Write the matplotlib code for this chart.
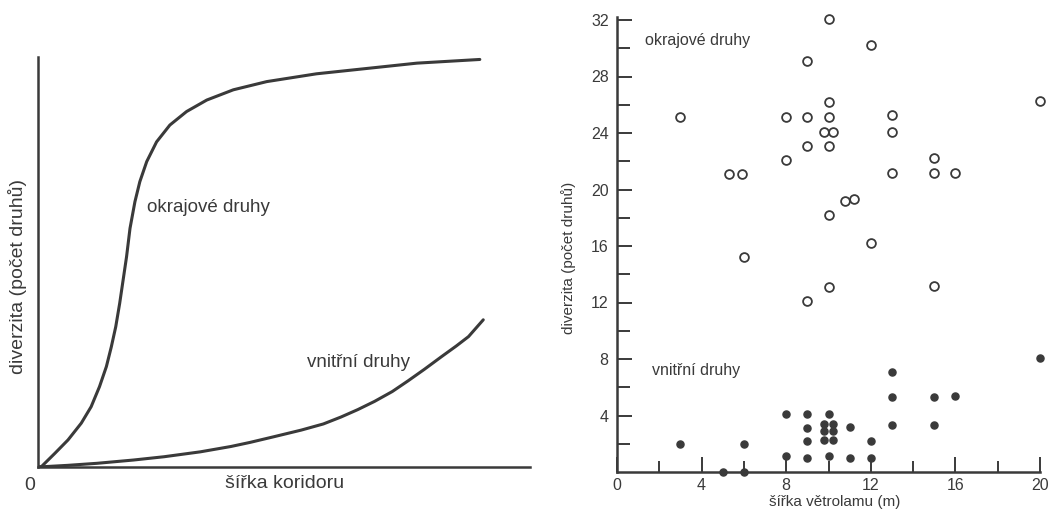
import numpy as np
import matplotlib
matplotlib.use('Agg')
import matplotlib.pyplot as plt

plt.rcParams['font.family'] = ['Liberation Sans', 'DejaVu Sans']

ink = '#3a3a3a'

# left panel: schematic curves (arbitrary units 0-10)
edge_x = [0, 0.07, 0.34, 0.61, 0.88, 1.08, 1.25, 1.39, 1.49, 1.58, 1.66, 1.73,
          1.80, 1.87, 1.97, 2.07, 2.21, 2.41, 2.68, 3.02, 3.43, 3.97, 4.65,
          5.66, 6.68, 7.70, 8.98]
edge_y = [0, 0.01, 0.33, 0.66, 1.07, 1.47, 1.96, 2.45, 2.93, 3.42, 3.99, 4.56,
          5.13, 5.82, 6.47, 6.96, 7.45, 7.93, 8.34, 8.67, 8.95, 9.20, 9.40,
          9.59, 9.72, 9.85, 9.94]
inner_x = [0, 0.6, 1.2, 1.94, 2.56, 3.3, 3.92, 4.31, 4.8, 5.35, 5.8, 6.16, 6.5,
           6.84, 7.2, 7.52, 7.85, 8.20, 8.5, 8.75, 9.05]
inner_y = [0, 0.04, 0.09, 0.17, 0.25, 0.37, 0.50, 0.60, 0.74, 0.90, 1.05, 1.22,
           1.40, 1.60, 1.84, 2.10, 2.38, 2.69, 2.95, 3.18, 3.59]

# right panel: windbreak width (m) vs. number of species
open_x = [3, 10, 12, 9, 10, 20, 8, 9, 10, 13, 9.8, 10.2, 13, 9, 10, 8, 15,
          5.3, 5.9, 13, 15, 16, 10.8, 11.2, 10, 12, 6, 9, 10, 15]
open_y = [25.1, 32.1, 30.2, 29.1, 26.2, 26.3, 25.1, 25.1, 25.1, 25.3, 24.1, 24.1,
          24.1, 23.1, 23.1, 22.1, 22.2, 21.1, 21.1, 21.2, 21.2, 21.2, 19.2, 19.3,
          18.2, 16.2, 15.2, 12.1, 13.1, 13.2]
fill_x = [3, 6, 5, 6, 8, 8, 9, 9, 9, 9, 10, 9.8, 10.2, 9.8, 10.2, 9.8, 10.2,
          10, 11, 11, 12, 12, 13, 13, 13, 15, 15, 16, 20]
fill_y = [2.0, 2.0, 0, 0, 4.1, 1.1, 4.1, 3.1, 2.2, 1.0, 4.1, 3.4, 3.4, 2.9, 2.9,
          2.3, 2.3, 1.1, 3.2, 1.0, 2.2, 1.0, 7.1, 5.3, 3.3, 5.3, 3.3, 5.4, 8.1]

W, H = 1049, 512
fig = plt.figure(figsize=(W / 100, H / 100), dpi=100)

# ---- left panel
ax1 = fig.add_axes([38 / W, 45 / H, 492 / W, 410 / H])
ax1.plot(edge_x, edge_y, color=ink, lw=2.2, solid_capstyle='round', solid_joinstyle='round')
ax1.plot(inner_x, inner_y, color=ink, lw=2.2, solid_capstyle='round', solid_joinstyle='round')
ax1.set_xlim(0, 10)
ax1.set_ylim(0, 10)
for s in ['top', 'right']:
    ax1.spines[s].set_visible(False)
for s in ['left', 'bottom']:
    ax1.spines[s].set_linewidth(1.8)
    ax1.spines[s].set_color(ink)
ax1.set_xticks([])
ax1.set_yticks([])
ax1.text(2.22, 6.32, 'okrajové druhy', fontsize=13.5, color=ink, ha='left', va='center')
ax1.text(5.47, 2.56, 'vnitřní druhy', fontsize=13.5, color=ink, ha='left', va='center')
fig.text(18 / W, 1 - 276 / H, 'diverzita (počet druhů)', rotation=90, fontsize=14,
         color=ink, ha='center', va='center')
fig.text(285 / W, 1 - 484 / H, 'šířka koridoru', fontsize=14, color=ink,
         ha='center', va='center')
fig.text(30 / W, 1 - 485 / H, '0', fontsize=14, color=ink, ha='center', va='center')

# ---- right panel
ax2 = fig.add_axes([617 / W, 40 / H, 423 / W, 455 / H])
ax2.scatter(open_x, open_y, s=40, facecolors='white', edgecolors=ink,
            linewidths=1.3, clip_on=False, zorder=3)
ax2.scatter(fill_x, fill_y, s=26, color=ink, clip_on=False, zorder=3)
ax2.set_xlim(0, 20)
ax2.set_ylim(0, 455 / 14.125)
for s in ['top', 'right']:
    ax2.spines[s].set_visible(False)
for s in ['left', 'bottom']:
    ax2.spines[s].set_linewidth(1.8)
    ax2.spines[s].set_color(ink)
ax2.set_xticks([0, 4, 8, 12, 16, 20])
ax2.set_xticks([2, 6, 10, 14, 18], minor=True)
ax2.set_yticks([4, 8, 12, 16, 20, 24, 28, 32])
ax2.set_yticks([2, 6, 10, 14, 18, 22, 26, 30], minor=True)
ax2.tick_params(axis='x', which='major', direction='in', length=11, width=1.4,
                colors=ink, labelsize=11.5, pad=4)
ax2.tick_params(axis='x', which='minor', direction='in', length=8, width=1.4, colors=ink)
ax2.tick_params(axis='y', which='major', direction='in', length=11, width=1.4,
                colors=ink, labelsize=11.5, pad=6)
ax2.tick_params(axis='y', which='minor', direction='in', length=9, width=1.4, colors=ink)
ax2.text(1.32, 30.58, 'okrajové druhy', fontsize=11.5, color=ink, ha='left', va='center')
ax2.text(1.65, 7.22, 'vnitřní druhy', fontsize=11.5, color=ink, ha='left', va='center')
fig.text(569 / W, 1 - 258 / H, 'diverzita (počet druhů)', rotation=90, fontsize=11,
         color=ink, ha='center', va='center')
fig.text(835 / W, 1 - 502 / H, 'šířka větrolamu (m)', fontsize=11, color=ink,
         ha='center', va='center')

fig.savefig('out.png', dpi=100)
